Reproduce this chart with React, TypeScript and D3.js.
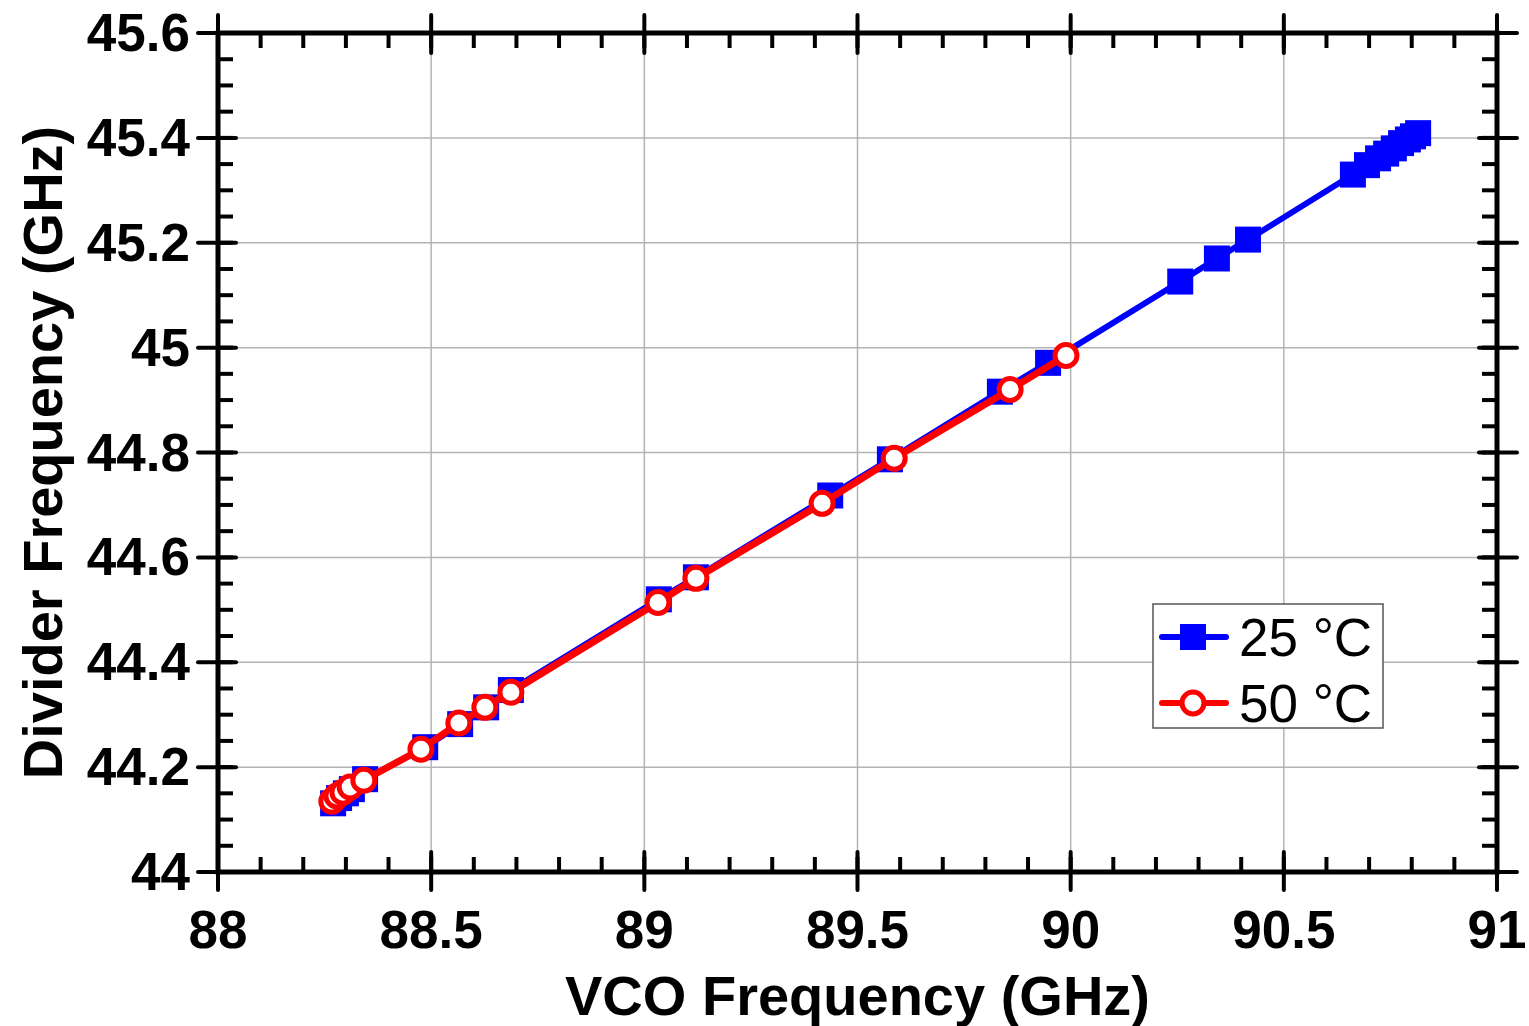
import React from "react";
import * as d3 from "d3";

const vco25 = [88.270, 88.284, 88.300, 88.314, 88.345, 88.486, 88.568, 88.629, 88.687, 89.034, 89.121, 89.436, 89.576, 89.834, 89.947, 90.257, 90.343, 90.416, 90.662, 90.695, 90.721, 90.740, 90.758, 90.775, 90.791, 90.803, 90.815];
const div25 = [44.131, 44.141, 44.150, 44.158, 44.177, 44.238, 44.282, 44.314, 44.347, 44.520, 44.562, 44.718, 44.787, 44.916, 44.971, 45.126, 45.170, 45.206, 45.330, 45.348, 45.361, 45.370, 45.380, 45.390, 45.397, 45.403, 45.409];
const vco50 = [88.267, 88.279, 88.293, 88.310, 88.342, 88.476, 88.565, 88.626, 88.687, 89.032, 89.121, 89.417, 89.586, 89.858, 89.989];
const div50 = [44.135, 44.145, 44.152, 44.162, 44.175, 44.234, 44.284, 44.314, 44.343, 44.514, 44.560, 44.703, 44.789, 44.920, 44.985];

const xTicks = [88, 88.5, 89, 89.5, 90, 90.5, 91];
const xTickLabels = ["88", "88.5", "89", "89.5", "90", "90.5", "91"];
const yTicks = [44, 44.2, 44.4, 44.6, 44.8, 45, 45.2, 45.4, 45.6];
const yTickLabels = ["44", "44.2", "44.4", "44.6", "44.8", "45", "45.2", "45.4", "45.6"];
const legendLabels = ["25 °C", "50 °C"];

const W = 1529, H = 1026;
const L = 218, R = 1497, T = 33, B = 872;

export default function App() {
  const x = d3.scaleLinear().domain([88, 91]).range([L, R]);
  const y = d3.scaleLinear().domain([44, 45.6]).range([B, T]);
  const pts25 = vco25.map((v, i) => [v, div25[i]] as [number, number]);
  const pts50 = vco50.map((v, i) => [v, div50[i]] as [number, number]);
  const line = d3.line<[number, number]>().x(d => x(d[0])).y(d => y(d[1]));
  const xMinor = d3.range(88, 91.0001, 0.1);
  const yMinor = d3.range(44, 45.6001, 0.05);
  const font = "'Liberation Sans', Arial, sans-serif";
  const sq = 26;
  return (
    <svg width={W} height={H} style={{ position: "absolute", left: 0, top: 0, display: "block" }}>
      <rect x={0} y={0} width={W} height={H} fill="#fff" />
      {/* grid */}
      {xTicks.slice(1, -1).map(t => (
        <line key={"gx" + t} x1={x(t)} x2={x(t)} y1={T} y2={B} stroke="#b4b4b4" strokeWidth={1.5} />
      ))}
      {yTicks.slice(1, -1).map(t => (
        <line key={"gy" + t} x1={L} x2={R} y1={y(t)} y2={y(t)} stroke="#b4b4b4" strokeWidth={1.5} />
      ))}
      {/* minor ticks */}
      {xMinor.map((t, i) => (
        <g key={"xm" + i}>
          <line x1={x(t)} x2={x(t)} y1={B} y2={B - 15} stroke="#000" strokeWidth={4} />
          <line x1={x(t)} x2={x(t)} y1={T} y2={T + 15} stroke="#000" strokeWidth={4} />
        </g>
      ))}
      {yMinor.map((t, i) => (
        <g key={"ym" + i}>
          <line x1={L} x2={L + 15} y1={y(t)} y2={y(t)} stroke="#000" strokeWidth={4} />
          <line x1={R} x2={R - 15} y1={y(t)} y2={y(t)} stroke="#000" strokeWidth={4} />
        </g>
      ))}
      {/* major ticks */}
      {xTicks.map(t => (
        <g key={"xM" + t}>
          <line x1={x(t)} x2={x(t)} y1={B + 18} y2={B - 20} stroke="#000" strokeWidth={4} strokeLinecap="round" />
          <line x1={x(t)} x2={x(t)} y1={T - 18} y2={T + 20} stroke="#000" strokeWidth={4} strokeLinecap="round" />
        </g>
      ))}
      {yTicks.map(t => (
        <g key={"yM" + t}>
          <line x1={L - 20} x2={L + 18} y1={y(t)} y2={y(t)} stroke="#000" strokeWidth={4} strokeLinecap="round" />
          <line x1={R + 20} x2={R - 18} y1={y(t)} y2={y(t)} stroke="#000" strokeWidth={4} strokeLinecap="round" />
        </g>
      ))}
      {/* frame */}
      <rect x={L} y={T} width={R - L} height={B - T} fill="none" stroke="#000" strokeWidth={5} />
      {/* tick labels */}
      {xTicks.map((t, i) => (
        <text key={"xl" + t} x={x(t)} y={948} textAnchor="middle" fontFamily={font} fontWeight="bold" fontSize={53}>{xTickLabels[i]}</text>
      ))}
      {yTicks.map((t, i) => (
        <text key={"yl" + t} x={190} y={y(t) + 18} textAnchor="end" fontFamily={font} fontWeight="bold" fontSize={53}>{yTickLabels[i]}</text>
      ))}
      {/* axis titles */}
      <text x={(L + R) / 2} y={1015} textAnchor="middle" fontFamily={font} fontWeight="bold" fontSize={56}>VCO Frequency (GHz)</text>
      <text transform={`translate(62, ${(T + B) / 2}) rotate(-90)`} textAnchor="middle" fontFamily={font} fontWeight="bold" fontSize={56}>Divider Frequency (GHz)</text>
      {/* series 25 */}
      <path d={line(pts25) || ""} fill="none" stroke="#0000ff" strokeWidth={6} />
      {pts25.map((p, i) => (
        <rect key={"s" + i} x={x(p[0]) - sq / 2} y={y(p[1]) - sq / 2} width={sq} height={sq} fill="#0000ff" />
      ))}
      {/* series 50 */}
      <path d={line(pts50) || ""} fill="none" stroke="#ff0000" strokeWidth={7} />
      {pts50.map((p, i) => (
        <circle key={"c" + i} cx={x(p[0])} cy={y(p[1])} r={11} fill="#fff" stroke="#ff0000" strokeWidth={5} />
      ))}
      {/* legend */}
      <rect x={1153} y={604} width={230} height={124} fill="#fff" stroke="#555" strokeWidth={1.5} />
      <line x1={1162} x2={1226} y1={637} y2={637} stroke="#0000ff" strokeWidth={6} strokeLinecap="round" />
      <rect x={1193 - sq / 2} y={637 - sq / 2} width={sq} height={sq} fill="#0000ff" />
      <text x={1239} y={656} fontFamily={font} fontSize={53}>{legendLabels[0]}</text>
      <line x1={1162} x2={1226} y1={703} y2={703} stroke="#ff0000" strokeWidth={6} strokeLinecap="round" />
      <circle cx={1193} cy={703} r={11} fill="#fff" stroke="#ff0000" strokeWidth={5} />
      <text x={1239} y={722} fontFamily={font} fontSize={53}>{legendLabels[1]}</text>
    </svg>
  );
}
